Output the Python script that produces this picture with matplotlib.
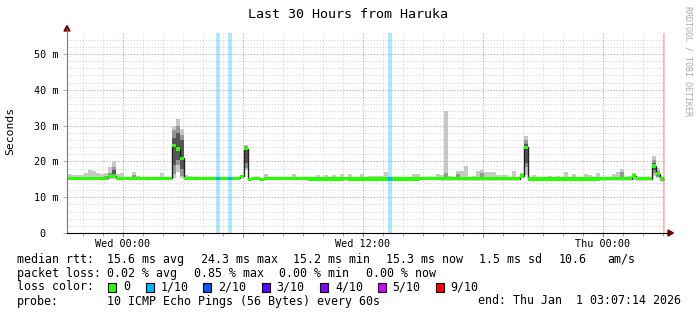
import numpy as np
import matplotlib
matplotlib.use('Agg')
import matplotlib.pyplot as plt
from matplotlib.patches import Polygon, Rectangle
from matplotlib.ticker import MultipleLocator

W, H = 697, 315
MONO = 'DejaVu Sans Mono'

# time axis: hours relative to Wed 00:00, values in milliseconds
x_start, x_end = -2.8, 27.1
y_top = 55.87
bin_w = 0.2

# median rtt, step segments (start hour -> ms)
median_h = [-2.95, -0.75, -0.35, 2.45, 2.65, 2.85, 3.05, 5.85, 6.05, 6.25, 6.45,
            6.85, 7.05, 9.25, 11.05, 11.25, 14.85, 15.85, 19.85, 20.05, 20.25,
            23.85, 25.45, 25.65, 26.45, 26.65, 26.85]
median_ms = [15.3, 15.8, 15.3, 24.4, 23.5, 20.9, 15.3, 15.8, 23.6, 15.0, 15.3,
             15.0, 15.3, 15.1, 15.3, 15.1, 15.3, 15.2, 15.9, 23.9, 15.1,
             15.2, 15.9, 15.2, 18.7, 16.6, 15.1]
median_end = 27.05

# bins with 1/10 packet loss
loss_h = [4.65, 5.25, 13.25]

# outer smoke (light)
smoke_h = [-2.95, -2.75, -2.55, -2.35, -2.15, -1.95, -1.75, -1.55, -1.35, -1.15,
           -0.95, -0.75, -0.55, -0.35, -0.15, 0.45, 0.65, 1.85, 2.45, 2.65, 2.85,
           3.05, 3.25, 3.85, 6.05, 7.05, 8.45, 9.65, 10.05, 10.45, 10.85, 11.25,
           11.85, 12.25, 12.45, 12.65, 12.85, 13.05, 14.45, 14.65, 15.65, 15.85,
           16.05, 16.25, 16.65, 16.85, 17.05, 17.45, 17.65, 17.85, 18.05, 18.25,
           18.45, 18.65, 18.85, 19.05, 19.45, 19.85, 20.05, 20.45, 21.25, 21.65,
           22.05, 22.45, 23.05, 23.25, 23.65, 24.45, 24.65, 24.85, 25.25, 25.45,
           26.45, 26.65, 26.85]
smoke_lo = [14.9, 14.9, 14.9, 14.9, 14.9, 14.9, 14.9, 14.9, 14.9, 14.9,
            14.9, 15.2, 15.2, 14.9, 14.9, 14.9, 14.9, 14.9, 15.4, 17.0, 15.4,
            14.9, 14.9, 14.9, 17.5, 14.9, 14.9, 14.9, 14.9, 14.9, 14.9, 14.9,
            14.9, 14.9, 14.9, 14.9, 14.9, 14.9, 14.9, 14.9, 14.9, 14.9,
            15.0, 14.9, 14.9, 14.9, 14.9, 14.9, 14.9, 14.9, 14.9, 14.9,
            14.9, 14.9, 14.9, 14.9, 14.9, 15.3, 16.2, 14.9, 14.9, 14.9,
            14.9, 14.9, 14.9, 14.9, 14.9, 14.9, 14.9, 14.9, 14.9, 14.9,
            16.0, 15.4, 14.9]
smoke_hi = [16.5, 16.5, 16.2, 16.2, 16.2, 16.7, 17.6, 17.3, 16.7, 16.5,
            16.7, 18.5, 20.1, 16.4, 16.7, 17.0, 16.0, 16.8, 30.0, 31.8, 29.0,
            16.2, 15.8, 15.6, 24.6, 16.5, 16.5, 16.2, 16.2, 16.2, 16.5, 16.5,
            16.5, 15.8, 15.8, 15.8, 15.8, 17.0, 16.4, 16.5, 16.5, 16.1,
            34.0, 15.8, 17.3, 17.3, 18.7, 15.8, 17.3, 17.6, 17.1, 17.1,
            17.1, 16.2, 16.2, 16.2, 17.4, 16.7, 27.1, 16.2, 15.9, 15.9,
            17.1, 16.4, 16.4, 16.2, 16.9, 16.4, 17.1, 17.9, 15.9, 16.9,
            21.5, 18.1, 15.5]

# inner smoke (medium)
mid_h = [-0.95, -0.75, -0.55, 0.45, 2.45, 2.65, 2.85, 6.05, 16.05, 16.65,
         17.85, 20.05, 24.85, 26.45, 26.65]
mid_lo = [15.2, 15.5, 15.8, 15.2, 16.5, 19.0, 16.0, 18.2, 15.2, 15.2,
          15.2, 18.5, 15.4, 16.8, 15.6]
mid_hi = [15.9, 16.9, 18.5, 16.1, 28.8, 30.0, 27.5, 24.4, 16.8, 16.4,
          16.7, 26.0, 17.0, 20.4, 17.3]

# core smoke (dark)
dark_h = [-0.55, 2.45, 2.65, 2.85, 6.05, 20.05, 26.45]
dark_lo = [16.5, 19.0, 20.5, 18.0, 19.5, 19.5, 17.5]
dark_hi = [17.5, 26.5, 28.0, 26.0, 24.0, 24.8, 19.5]

y_ticks = [0, 10, 20, 30, 40, 50]
y_labels = ['0  ', '10 m', '20 m', '30 m', '40 m', '50 m']
x_ticks = [0, 6, 12, 18, 24]
x_labels = ['Wed 00:00', '', 'Wed 12:00', '', 'Thu 00:00']

title = 'Last 30 Hours from Haruka'
rtt_row = ['median rtt:', '15.6 ms avg', '24.3 ms max', '15.2 ms min',
           '15.3 ms now', '1.5 ms sd', '10.6', 'am/s']
loss_row = ['packet loss:', '0.02 % avg', '0.85 % max', '0.00 % min', '0.00 % now']
loss_names = ['0', '1/10', '2/10', '3/10', '4/10', '5/10', '9/10']
loss_colors = ['#26ff00', '#00b8ff', '#0059ff', '#5e00ff', '#7e00ff', '#dd00ff', '#ff0000']
probe_row = ['probe:', '10 ICMP Echo Pings (56 Bytes) every 60s',
             'end: Thu Jan  1 03:07:14 2026']


def px(x, y):
    return (x / W, 1 - y / H)


fig = plt.figure(figsize=(W / 100, H / 100), dpi=100, facecolor='white')
ax = fig.add_axes([67 / W, (H - 233) / H, 598 / W, 200 / H])
ax.set_xlim(x_start, x_end)
ax.set_ylim(0, y_top)
for s in ax.spines.values():
    s.set_visible(False)

# grid
ax.xaxis.set_major_locator(MultipleLocator(6))
ax.xaxis.set_minor_locator(MultipleLocator(1))
ax.yaxis.set_major_locator(MultipleLocator(10))
ax.yaxis.set_minor_locator(MultipleLocator(2))
ax.set_axisbelow(True)
ax.grid(which='minor', color='#8c8c8c', alpha=0.28, lw=0.72, ls=(0, (1.5, 1.5)))
ax.grid(which='major', color='#821e1e', alpha=0.33, lw=0.72, ls=(0, (1.5, 1.5)))

# smoke
ax.bar(smoke_h, np.subtract(smoke_hi, smoke_lo), bottom=smoke_lo, width=bin_w,
       align='edge', color='#c8c8c8', lw=0, zorder=2)
ax.bar(mid_h, np.subtract(mid_hi, mid_lo), bottom=mid_lo, width=bin_w,
       align='edge', color='#969696', lw=0, zorder=2)
ax.bar(dark_h, np.subtract(dark_hi, dark_lo), bottom=dark_lo, width=bin_w,
       align='edge', color='#555555', lw=0, zorder=2)

# loss bars
ax.bar(loss_h, y_top, width=bin_w, align='edge', color=loss_colors[1],
       alpha=0.33, lw=0, zorder=2.5)

# median line + loss coloured band
edges = median_h + [median_end]
ax.stairs(median_ms, edges, baseline=None, color='#202020', lw=1.0, zorder=3)
widths = np.diff(edges)
band = 0.47
ax.bar(median_h, 2 * band, bottom=np.array(median_ms) - band, width=widths,
       align='edge', color=loss_colors[0], lw=0, zorder=4)
idx = np.searchsorted(median_h, loss_h, side='right') - 1
ax.bar(loss_h, 2 * band, bottom=np.array(median_ms)[idx] - band, width=bin_w,
       align='edge', color=loss_colors[1], lw=0, zorder=4.5)

# right edge rule
ax.axvline(median_end, color='#ff0000', alpha=0.22, lw=1.5, zorder=5)

# ticks
ax.set_yticks(y_ticks)
ax.set_yticklabels(y_labels, fontfamily=MONO, fontsize=7.3)
ax.set_xticks(x_ticks)
ax.set_xticklabels(x_labels, fontfamily=MONO, fontsize=7.3)
ax.tick_params(axis='y', which='major', length=3, width=0.72, color='#cda5a5', pad=3)
ax.tick_params(axis='y', which='minor', length=0)
ax.tick_params(axis='x', which='major', length=3, width=0.72, color='#b07070', pad=1.2)
ax.tick_params(axis='x', which='minor', length=2, width=0.72, color='#a0a0a0')

# axes lines and arrows
fig.add_artist(plt.Line2D([67 / W, 67 / W], [px(0, 233)[1], px(0, 29)[1]],
                          color='#7a7a7a', lw=0.8))
fig.add_artist(plt.Line2D([67 / W, 669 / W], [px(0, 233)[1], px(0, 233)[1]],
                          color='#000000', lw=0.8))
fig.add_artist(Polygon([px(64, 31), px(70, 31), px(67, 25.5)], closed=True,
                       color='#800000', transform=fig.transFigure))
fig.add_artist(Polygon([px(668, 230), px(668, 236), px(673.5, 233)], closed=True,
                       color='#800000', transform=fig.transFigure))

# texts
fig.text(*px(347.5, 14), title, family=MONO, fontsize=9.6, ha='center', va='center')
fig.text(*px(10, 131), 'Seconds', family=MONO, fontsize=8.2, rotation=90,
         ha='center', va='center')
fig.text(*px(688, 61), 'RRDTOOL / TOBI OETIKER', family=MONO, fontsize=6.0,
         rotation=270, ha='center', va='center', color='#a8a8a8')

fs = 8.35
row1_x = [16.7, 107, 201, 293, 386, 479.3, 558.3, 607]
for t, x in zip(rtt_row, row1_x):
    fig.text(*px(x, 259.5), t, family=MONO, fontsize=fs, ha='left', va='center')
row2_x = [16.7, 107, 194, 279.3, 365.7]
for t, x in zip(loss_row, row2_x):
    fig.text(*px(x, 273.5), t, family=MONO, fontsize=fs, ha='left', va='center')
fig.text(*px(16.7, 287), 'loss color:', family=MONO, fontsize=fs, ha='left', va='center')
box_x = [108.3, 145.7, 203.3, 261.7, 320, 377.7, 435.7]
for name, c, x in zip(loss_names, loss_colors, box_x):
    x0, y0 = px(x, 291.5)
    fig.add_artist(Rectangle((x0, y0), 8 / W, 9 / H, facecolor=c, edgecolor='black',
                             lw=0.8, transform=fig.transFigure))
    fig.text(*px(x + 15, 287), name, family=MONO, fontsize=fs, ha='left', va='center')
row4_x = [16.7, 107, 478.3]
for t, x in zip(probe_row, row4_x):
    fig.text(*px(x, 301), t, family=MONO, fontsize=fs, ha='left', va='center')

fig.savefig('out.png', dpi=100, facecolor='white')
